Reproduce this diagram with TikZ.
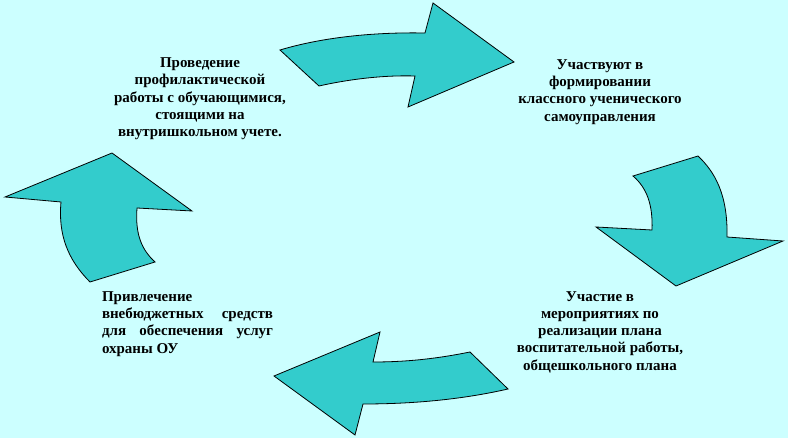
\documentclass[tikz,border=0pt]{standalone}
\usepackage{fontspec}
\setmainfont{Liberation Serif}
\usetikzlibrary{positioning}

\definecolor{bgcyan}{HTML}{CCFFFF}
\definecolor{arrowteal}{HTML}{33CCCC}

\begin{document}
\begin{tikzpicture}[x=1pt, y=-1pt,
    bluearrow/.style={fill=arrowteal, draw=black, line width=0.8pt, line join=miter},
    txt/.style={inner sep=0pt, align=center, font=\fontsize{15}{17.3}\selectfont\bfseries}]
    % Background
    \fill[bgcyan] (0,0) rectangle (788,438);
    \useasboundingbox (0,0) rectangle (788,438);
    % Top arrow
    \draw[bluearrow] (280,50) .. controls (320,38) and (370,32) .. (425,33) -- (433,3) -- (514,62)
        -- (408,107) -- (415,76) .. controls (385,75) and (350,79) .. (319,86) -- cycle;
    % Right arrow
    \draw[bluearrow] (633,176) -- (698,156) .. controls (715,172) and (728,195) .. (727,237)
        -- (783,241) -- (676,286) -- (596,227) -- (652,230)
        .. controls (653,205) and (647,188) .. (633,176) -- cycle;
    % Bottom arrow
    \draw[bluearrow] (274,376) -- (380,332) -- (373,362) .. controls (410,362) and (440,358) .. (470,352)
        -- (508,389) .. controls (460,400) and (410,404) .. (363,404) -- (355,435) -- cycle;
    % Left arrow
    \draw[bluearrow] (5,197) -- (112,153) -- (192,211) -- (137,208)
        .. controls (135,235) and (142,250) .. (155,262) -- (90,282)
        .. controls (68,260) and (58,235) .. (61,202) -- cycle;
    % Texts
    \node[txt] (prevention) at (200,99) {Проведение\\профилактической\\работы с обучающимися,\\стоящими на\\внутришкольном учете.};
    \node[txt] (selfgov) at (600,92) {Участвуют в\\формировании\\классного ученического\\самоуправления};
    \node[txt, text width=171pt, align=justify] (funds) at (187.5,324) {Привлечение внебюджетных средств для обеспечения услуг охраны ОУ};
    \node[txt] (events) at (600,332) {Участие в\\мероприятиях по\\реализации плана\\воспитательной работы,\\общешкольного плана};
\end{tikzpicture}
\end{document}
